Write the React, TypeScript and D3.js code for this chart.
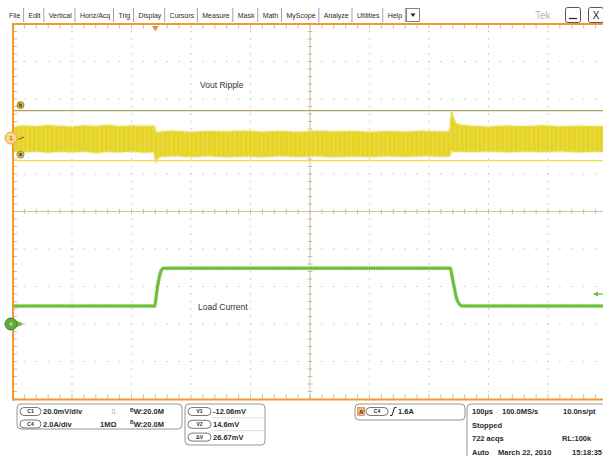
import React, { useMemo } from "react";
import * as d3 from "d3";

const W = 603;
const H = 456;
const FONT = "'Liberation Sans', Arial, sans-serif";

// Menu bar entries
const menuItems = ["File", "Edit", "Vertical", "Horiz/Acq", "Trig", "Display", "Cursors", "Measure", "Mask", "Math", "MyScope", "Analyze", "Utilities", "Help"];

// Timebase: 100 µs/div over 10 divisions (time in µs)
const timeDomain = [0, 1000];
const hDivs = 10;
const vDivs = 10;
const minorPerDiv = 5;

// Channel 1: output voltage ripple, 20 mV/div
const ch1VoltsPerDiv = 20;
const ch1Position = 1.96;
const rippleTime = [0, 20, 40, 60, 80, 100, 120, 140, 160, 180, 200, 220, 238, 241, 244, 250, 270, 300, 330, 360, 390, 420, 450, 480, 510, 540, 570, 600, 630, 660, 690, 720, 735, 738, 741, 746, 752, 770, 800, 830, 860, 890, 920, 950, 980, 1000];
const rippleHigh = [5.6, 6.4, 6.0, 6.6, 6.2, 5.8, 6.5, 6.1, 6.7, 6.0, 6.4, 6.2, 6.3, 3.0, 2.6, 3.2, 3.6, 3.0, 3.5, 3.2, 3.7, 3.1, 3.5, 3.0, 3.6, 3.2, 3.5, 3.0, 3.4, 3.1, 3.6, 3.2, 3.3, 13.9, 10.5, 7.6, 6.8, 6.3, 5.8, 6.4, 6.0, 6.5, 5.9, 6.3, 6.0, 6.2];
const rippleLow = [-6.9, -7.4, -7.0, -7.6, -7.1, -7.5, -7.0, -7.7, -7.2, -7.4, -7.0, -7.6, -7.3, -11.8, -10.6, -9.8, -9.4, -9.9, -9.5, -10.0, -9.6, -9.9, -9.4, -9.8, -9.5, -10.0, -9.6, -9.9, -9.5, -9.8, -9.4, -9.7, -9.6, -6.5, -7.0, -7.2, -7.0, -7.3, -6.9, -7.4, -7.0, -7.3, -6.9, -7.4, -7.1, -7.2];

// Channel 4: load current, 2 A/div
const ch4AmpsPerDiv = 2;
const ch4Position = -3;
const currentTime = [0, 239, 242, 246, 250, 254, 736, 739, 743, 747, 751, 756, 1000];
const currentAmps = [0.96, 0.96, 1.6, 2.4, 2.85, 2.97, 2.97, 2.5, 1.85, 1.3, 1.07, 0.96, 0.96];

// Cursors, trigger
const cursorV1 = -12.06;
const cursorV2 = 14.6;
const cursorDelta = "26.67mV";
const triggerLevel = 1.6;
const triggerTime = 240;

// Readout texts
const ch1Readout = ["20.0mV/div", "BW:20.0M"];
const ch4Readout = ["2.0A/div", "1MΩ", "BW:20.0M"];
const cursorReadout = [["V1", "-12.06mV"], ["V2", "14.6mV"], ["ΔV", cursorDelta]];
const triggerReadout = ["C4", "1.6A"];
const acqReadout = [["100µs", "100.0MS/s", "10.0ns/pt"], ["Stopped", "", ""], ["722 acqs", "", "RL:100k"], ["Auto", "March 22, 2010", "15:18:35"]];

const ORANGE = "#f39a2c";
const GRID = "#d3c3a2";
const TICK = "#c9b590";
const YELLOW = "#e7d52a";
const GREEN = "#6cbf3c";
const TXT = "#2a2a2a";

function Capsule({ x, y, w, label }: { x: number; y: number; w: number; label: string }) {
  return (
    <g>
      <rect x={x} y={y - 4} width={w} height={8} rx={4} fill="#fff" stroke="#555" strokeWidth={0.8} />
      <text x={x + w / 2} y={y + 1.8} fontSize={5} textAnchor="middle" fill={TXT} fontFamily={FONT}>{label}</text>
    </g>
  );
}

function BW({ x, y, value }: { x: number; y: number; value: string }) {
  return (
    <text x={x} y={y} fontSize={7.5} fontWeight="bold" fill={TXT} fontFamily={FONT}>
      <tspan fontSize={5} dy={-2.5}>B</tspan>
      <tspan dy={2.5}>{value.slice(1)}</tspan>
    </text>
  );
}

export default function App() {
  const x = d3.scaleLinear().domain(timeDomain).range([12.5, 607.5]);
  const yDiv = d3.scaleLinear().domain([-vDivs / 2, vDivs / 2]).range([399, 24]);
  const y1 = (mv: number) => yDiv(mv / ch1VoltsPerDiv + ch1Position);
  const y4 = (a: number) => yDiv(a / ch4AmpsPerDiv + ch4Position);

  const idxR = d3.range(rippleTime.length);
  const rippleArea = d3.area<number>()
    .x(i => x(rippleTime[i]))
    .y0(i => y1(rippleLow[i]))
    .y1(i => y1(rippleHigh[i]))
    .curve(d3.curveLinear);
  const idxC = d3.range(currentTime.length);
  const currentLine = d3.line<number>()
    .x(i => x(currentTime[i]))
    .y(i => y4(currentAmps[i]))
    .curve(d3.curveMonotoneX);

  const span = timeDomain[1] - timeDomain[0];
  const xMinor = d3.range(0, hDivs * minorPerDiv + 1).map(j => x(timeDomain[0] + (j * span) / (hDivs * minorPerDiv)));
  const yMinor = d3.range(0, vDivs * minorPerDiv + 1).map(j => yDiv(-vDivs / 2 + j / minorPerDiv));
  const xMajor = d3.range(1, hDivs).map(k => x(timeDomain[0] + (k * span) / hDivs));
  const yMajor = d3.range(1, vDivs).map(k => yDiv(-vDivs / 2 + k));
  const xc = x((timeDomain[0] + timeDomain[1]) / 2);
  const yc = yDiv(0);

  const menuLayout = useMemo(() => {
    const ctx = document.createElement("canvas").getContext("2d");
    let cx = 9;
    return menuItems.map(m => {
      let w = m.length * 3.8;
      if (ctx) {
        ctx.font = `7px ${FONT}`;
        w = ctx.measureText(m).width;
      }
      const item = { label: m, x: cx, sep: cx + w + 3.3 };
      cx = cx + w + 8.2;
      return item;
    });
  }, []);

  const yB = y1(cursorV2);
  const yA = y1(cursorV1);
  const yTrig = y4(triggerLevel);
  const ch1Zero = y1(0);
  const ch4Zero = y4(0);
  const ripplePath = rippleArea(idxR) || "";
  const currentPath = currentLine(idxC) || "";

  return (
    <svg width={W} height={H} style={{ position: "absolute", left: 0, top: 0, background: "#fff" }} fontFamily={FONT}>
      <defs>
        <pattern id="ripHatch" width={9} height={10} patternUnits="userSpaceOnUse">
          <rect width={9} height={10} fill={YELLOW} />
          <rect x={0} width={0.7} height={10} fill="#f4ea8e" opacity={0.45} />
          <rect x={2.3} width={0.6} height={10} fill="#d8c414" opacity={0.35} />
          <rect x={4.9} width={0.7} height={10} fill="#f2e67c" opacity={0.35} />
          <rect x={7.1} width={0.6} height={10} fill="#d6c212" opacity={0.3} />
        </pattern>
        <clipPath id="plotClip">
          <rect x={13} y={24} width={W - 13} height={375} />
        </clipPath>
      </defs>

      {/* menu bar */}
      <g>
        {menuLayout.map(m => (
          <g key={m.label}>
            <text x={m.x} y={17.5} fontSize={7} fill={TXT}>{m.label}</text>
            <line x1={m.sep} x2={m.sep} y1={8} y2={22} stroke="#7f9bd3" strokeWidth={0.9} />
          </g>
        ))}
        <rect x={406.5} y={8.5} width={13} height={13} fill="#fff" stroke="#666" strokeWidth={0.8} />
        <path d="M410.5,13.5 L415.5,13.5 L413,17 Z" fill="#222" />
        <text x={535} y={19} fontSize={10} fill="#b4b4b4" fontFamily={FONT}>Tek</text>
        <rect x={565.5} y={7.5} width={15} height={15} rx={2} fill="#fff" stroke="#444" strokeWidth={0.9} />
        <line x1={569} x2={577} y1={18.5} y2={18.5} stroke="#222" strokeWidth={1.2} />
        <rect x={588.5} y={7.5} width={15} height={15} rx={2} fill="#fff" stroke="#444" strokeWidth={0.9} />
        <text x={596} y={19} fontSize={10} textAnchor="middle" fill="#222">X</text>
      </g>

      {/* graticule */}
      <g clipPath="url(#plotClip)">
        {xMajor.filter(v => Math.abs(v - xc) > 1).map((gx, i) => (
          <g key={"vx" + i}>
            {yMinor.map((gy, j) => (
              <rect key={j} x={gx - 0.5} y={gy - 0.75} width={1} height={1.5} fill={GRID} />
            ))}
          </g>
        ))}
        {yMajor.filter(v => Math.abs(v - yc) > 1).map((gy, i) => (
          <g key={"hy" + i}>
            {xMinor.map((gx, j) => (
              <rect key={j} x={gx - 0.75} y={gy - 0.5} width={1.5} height={1} fill={GRID} />
            ))}
          </g>
        ))}
        <line x1={13} x2={W} y1={yc} y2={yc} stroke={GRID} strokeWidth={1} />
        <line x1={xc} x2={xc} y1={24} y2={399} stroke={GRID} strokeWidth={1} />
        {xMinor.map((gx, j) => (
          <line key={"cx" + j} x1={gx} x2={gx} y1={yc - 2.5} y2={yc + 2.5} stroke={TICK} strokeWidth={0.9} />
        ))}
        {yMinor.map((gy, j) => (
          <line key={"cy" + j} x1={xc - 2.5} x2={xc + 2.5} y1={gy} y2={gy} stroke={TICK} strokeWidth={0.9} />
        ))}
        {xMinor.map((gx, j) => (
          <g key={"bt" + j}>
            <line x1={gx} x2={gx} y1={24} y2={28.5} stroke={TICK} strokeWidth={0.9} />
            <line x1={gx} x2={gx} y1={394.5} y2={399} stroke={TICK} strokeWidth={0.9} />
          </g>
        ))}
        {yMinor.map((gy, j) => (
          <line key={"lt" + j} x1={13} x2={17} y1={gy} y2={gy} stroke={TICK} strokeWidth={0.9} />
        ))}

        {/* cursors */}
        <line x1={13} x2={W} y1={yB} y2={yB} stroke="#b3a25e" strokeWidth={1.1} />
        <line x1={13} x2={W} y1={yA} y2={yA} stroke="#efe04a" strokeWidth={1.3} />

        {/* channel 1 ripple: fuzzy edge, dense body */}
        <path d={ripplePath} fill="none" stroke="#ece07a" strokeWidth={3.4} strokeDasharray="0.7 1.1" />
        <path d={ripplePath} fill="url(#ripHatch)" stroke="#e9da48" strokeWidth={1} strokeLinejoin="round" />

        {/* channel 4 current */}
        <path d={currentPath} fill="none" stroke="#b9e19c" strokeWidth={4.4} strokeDasharray="0.8 1" />
        <path d={currentPath} fill="none" stroke={GREEN} strokeWidth={3} />
      </g>

      {/* graticule frame */}
      <line x1={12} x2={W} y1={24} y2={24} stroke={ORANGE} strokeWidth={2} />
      <line x1={12} x2={W} y1={399.5} y2={399.5} stroke={ORANGE} strokeWidth={2} />
      <line x1={13} x2={13} y1={23} y2={400.5} stroke={ORANGE} strokeWidth={2} />

      {/* trigger position marker */}
      <path d={`M${x(triggerTime) - 3.5},26 L${x(triggerTime) + 3.5},26 L${x(triggerTime)},31.5 Z`} fill="#f08a55" />
      {/* trigger level marker */}
      <path d={`M593,${yTrig} L598,${yTrig - 2.5} L598,${yTrig + 2.5} Z`} fill={GREEN} />
      <line x1={597} x2={W} y1={yTrig} y2={yTrig} stroke={GREEN} strokeWidth={1.2} />

      {/* labels */}
      <text x={200} y={88} fontSize={8.5} fill="#333">Vout Ripple</text>
      <text x={198} y={310} fontSize={8.5} fill="#333">Load Current</text>

      {/* cursor handles */}
      <g>
        <circle cx={20.5} cy={yB - 5.5} r={3.6} fill="#cdb64c" stroke="#8d7c2c" strokeWidth={0.7} />
        <text x={20.5} y={yB - 3.7} fontSize={5} textAnchor="middle" fill="#222" fontWeight="bold">b</text>
        <circle cx={20.5} cy={yA - 6} r={3.6} fill="#cdb64c" stroke="#8d7c2c" strokeWidth={0.7} />
        <text x={20.5} y={yA - 4.2} fontSize={5} textAnchor="middle" fill="#222" fontWeight="bold">a</text>
      </g>

      {/* channel markers */}
      <g>
        <line x1={18} x2={24} y1={ch1Zero + 1.5} y2={ch1Zero - 1} stroke="#555" strokeWidth={0.9} />
        <circle cx={11} cy={ch1Zero} r={6} fill="#fad68a" stroke="#f0a53a" strokeWidth={1} />
        <text x={11} y={ch1Zero + 2.2} fontSize={6} textAnchor="middle" fill="#6a4a10">1</text>
        <path d={`M16,${ch4Zero - 3.5} L24,${ch4Zero} L16,${ch4Zero + 3.5} Z`} fill={GREEN} />
        <circle cx={11} cy={ch4Zero} r={6} fill="#5eaa3e" stroke="#3b8526" strokeWidth={1} />
        <text x={11} y={ch4Zero + 2.2} fontSize={6} textAnchor="middle" fill="#e9f6e0">4</text>
      </g>

      {/* readouts */}
      <g fontSize={7.5} fontWeight="bold" fill={TXT}>
        <rect x={17} y={404} width={165} height={25} rx={4} fill="#fff" stroke="#8a8a8a" strokeWidth={0.9} />
        <Capsule x={20} y={411.5} w={21} label="C1" />
        <text x={43} y={414.2}>{ch1Readout[0]}</text>
        <text x={111} y={414.2} fontSize={7} fontWeight="normal">⎍</text>
        <BW x={130} y={414.2} value={ch1Readout[1]} />
        <Capsule x={20} y={424} w={21} label="C4" />
        <text x={43} y={426.7}>{ch4Readout[0]}</text>
        <text x={100} y={426.7}>{ch4Readout[1]}</text>
        <BW x={130} y={426.7} value={ch4Readout[2]} />

        <rect x={185} y={404} width={80} height={41} rx={4} fill="#fff" stroke="#8a8a8a" strokeWidth={0.9} />
        {cursorReadout.map((r, i) => (
          <g key={r[0]}>
            <Capsule x={188} y={411.5 + i * 12.8} w={23} label={r[0]} />
            <text x={213} y={414.2 + i * 12.8}>{r[1]}</text>
            {i < 2 && <line x1={212} x2={264} y1={417.8 + i * 12.8} y2={417.8 + i * 12.8} stroke="#d0d0d0" strokeWidth={0.7} />}
          </g>
        ))}

        <rect x={355} y={404} width={110} height={16} rx={4} fill="#fff" stroke="#8a8a8a" strokeWidth={0.9} />
        <rect x={357.5} y={407.5} width={7} height={8} fill="#f5b27a" stroke="#d27a30" strokeWidth={0.6} />
        <text x={359} y={414} fontSize={6}>A'</text>
        <Capsule x={366} y={411.5} w={22} label={triggerReadout[0]} />
        <path d="M390,415.5 L392,415.5 L394.5,407.5 L396.5,407.5" fill="none" stroke="#222" strokeWidth={1} />
        <text x={398} y={414.2}>{triggerReadout[1]}</text>

        <rect x={467} y={404} width={150} height={60} rx={4} fill="#fff" stroke="#8a8a8a" strokeWidth={0.9} />
        {acqReadout.map((row, i) => {
          const yy = 414 + i * 13.6;
          const xs = i === 3 ? [472, 498, 572] : [472, 502, 563];
          return (
            <g key={i}>
              {row.map((t, j) => t ? <text key={j} x={j === 2 && i === 2 ? 562 : xs[j]} y={yy}>{t}</text> : null)}
            </g>
          );
        })}
      </g>
    </svg>
  );
}
